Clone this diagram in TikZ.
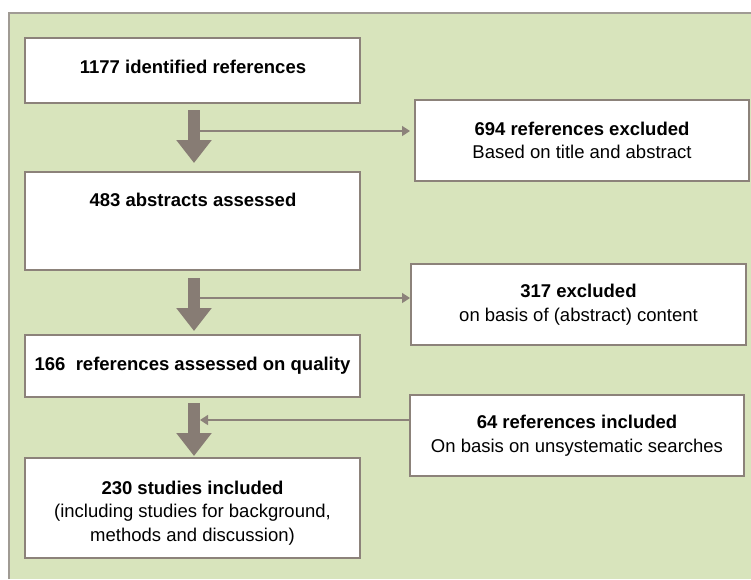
\documentclass[tikz,border=0pt]{standalone}
\usepackage{fontspec}
\setmainfont{Liberation Sans}
\usetikzlibrary{arrows.meta}
\definecolor{panelgreen}{RGB}{216,228,188}
\definecolor{boxborder}{RGB}{140,130,122}
\definecolor{arrowfill}{RGB}{135,124,116}
\definecolor{panelline}{RGB}{160,155,148}
\begin{document}
\begin{tikzpicture}[x=1pt,y=-1pt,
  box/.style={draw=boxborder, line width=2.4pt, fill=white, inner sep=0pt, outer sep=0pt, anchor=north west},
  txt/.style={font=\fontsize{18.5pt}{23.5pt}\selectfont, align=center, inner sep=0pt},
  bigarrow/.style={draw=arrowfill, line width=12pt, -{Triangle[width=34pt,length=23pt]}},
  thinarrow/.style={draw=boxborder, line width=1.6pt, -{Triangle[width=10pt,length=8pt]}}
]
\useasboundingbox (0,0) rectangle (751,579);
% panel
\fill[panelgreen] (9,13) rectangle (751,579);
\draw[panelline, line width=1.4pt] (9,579) -- (9,13) -- (751,13);

% boxes
\node[box, minimum width=335pt, minimum height=65pt] (b1) at (25,38) {};
\node[box, minimum width=334pt, minimum height=81pt] (b2) at (415,100) {};
\node[box, minimum width=335pt, minimum height=98pt] (b3) at (25,172) {};
\node[box, minimum width=335pt, minimum height=81pt] (b4) at (411,264) {};
\node[box, minimum width=335pt, minimum height=62pt] (b5) at (25,335) {};
\node[box, minimum width=334pt, minimum height=81pt] (b6) at (410,395) {};
\node[box, minimum width=335pt, minimum height=100pt] (b7) at (25,458) {};

% texts
\node[txt] (t1) at (193,67) {\bfseries 1177 identified references};
\node[txt] (t2) at (b2.center) {\bfseries 694 references excluded\\Based on title and abstract};
\node[txt] (t3) at (193,200) {\bfseries 483 abstracts assessed};
\node[txt] (t4) at (b4.center) {\bfseries 317 excluded\\on basis of (abstract) content};
\node[txt] (t5) at (b5.center) {\bfseries 166\ \ references assessed on quality};
\node[txt] (t6) at (b6.center) {\bfseries 64 references included\\On basis on unsystematic searches};
\node[txt] (t7) at ([yshift=-5pt]b7.center) {\bfseries 230 studies included\\(including studies for background,\\methods and discussion)};

% big arrows
\draw[bigarrow, shorten <=7pt, shorten >=9pt] ([xshift=1.5pt]b1.south) -- ([xshift=1.5pt]b3.north);
\draw[bigarrow, shorten <=8pt, shorten >=4pt] ([xshift=1.5pt]b3.south) -- ([xshift=1.5pt]b5.north);
\draw[bigarrow, shorten <=6pt, shorten >=2pt] ([xshift=1.5pt]b5.south) -- ([xshift=1.5pt]b7.north);

% side connectors
\coordinate (c1) at (200,131);
\coordinate (c2) at (200,298);
\coordinate (c3) at (200,420);
\draw[thinarrow, shorten >=5pt] (c1) -- (c1 -| b2.west);
\draw[thinarrow, shorten >=1pt] (c2) -- (c2 -| b4.west);
\draw[thinarrow] (b6.west |- c3) -- (c3);
\end{tikzpicture}
\end{document}
